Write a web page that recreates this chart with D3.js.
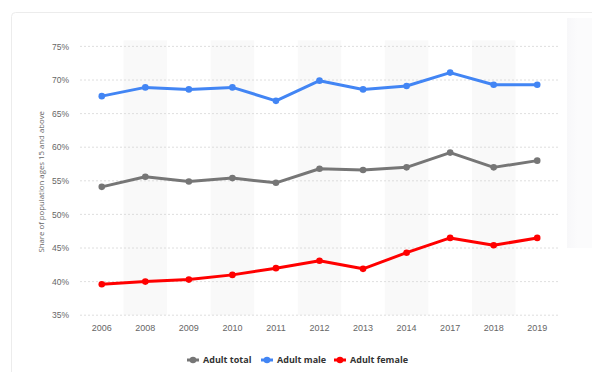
<!DOCTYPE html>
<html>
<head>
<meta charset="utf-8">
<script src="https://cdn.jsdelivr.net/npm/d3@7"></script>
<style>
  body { margin: 0; background: #fff; font-family: "Open Sans", Roboto, sans-serif; }
  svg { display: block; }
  .grid line { stroke: #d6d6d6; stroke-dasharray: 2 2; stroke-width: 0.8; }
  .axis text { fill: #666; font-size: 8.5px; }
</style>
</head>
<body>
<svg id="chart" width="592" height="372"></svg>
<script>
const years = ["2006", "2008", "2009", "2010", "2011", "2012", "2013", "2014", "2017", "2018", "2019"];
const adultTotal = [54.1, 55.6, 54.9, 55.4, 54.7, 56.8, 56.6, 57.0, 59.2, 57.0, 58.0];
const adultMale = [67.6, 68.9, 68.6, 68.9, 66.9, 69.9, 68.6, 69.1, 71.1, 69.3, 69.3];
const adultFemale = [39.6, 40.0, 40.3, 41.0, 42.0, 43.1, 41.9, 44.3, 46.5, 45.4, 46.5];
const yTicks = [35, 40, 45, 50, 55, 60, 65, 70, 75];

const series = [
  { name: "Adult total", values: adultTotal, color: "#767676" },
  { name: "Adult male", values: adultMale, color: "#4285f4" },
  { name: "Adult female", values: adultFemale, color: "#ff0000" }
];

const svg = d3.select("#chart");
const plotLeft = 80, plotRight = 559, plotTop = 46.4, plotBottom = 315.2;

// card frame and the side panel
svg.append("rect").attr("x", 11.5).attr("y", 12.5).attr("width", 600).attr("height", 400)
  .attr("rx", 4).attr("fill", "#fff").attr("stroke", "#ececec");
const defs = svg.append("defs");
const grad = defs.append("linearGradient").attr("id", "side");
grad.append("stop").attr("offset", "0%").attr("stop-color", "#f7f7f9");
grad.append("stop").attr("offset", "35%").attr("stop-color", "#fbfbfc");
svg.append("rect").attr("x", 567).attr("y", 18).attr("width", 30).attr("height", 230)
  .attr("fill", "url(#side)");

const x = d3.scaleBand().domain(years).range([plotLeft, plotRight]);
const y = d3.scaleLinear().domain([35, 75]).range([plotBottom, plotTop]);

// alternating column shading
svg.append("g").selectAll("rect")
  .data(years.filter((d, i) => i % 2 === 1))
  .enter().append("rect")
  .attr("x", d => x(d)).attr("y", plotTop - 6)
  .attr("width", x.bandwidth()).attr("height", plotBottom - plotTop + 6)
  .attr("fill", "#f9f9f9");

svg.append("g").attr("class", "grid")
  .selectAll("line").data(yTicks).enter().append("line")
  .attr("x1", plotLeft).attr("x2", plotRight)
  .attr("y1", d => y(d)).attr("y2", d => y(d));

const yAxis = svg.append("g").attr("class", "axis")
  .attr("transform", `translate(${plotLeft},0)`)
  .call(d3.axisLeft(y).tickValues(yTicks).tickFormat(d => d + "%").tickSize(0).tickPadding(11));
yAxis.select(".domain").remove();

const xAxis = svg.append("g").attr("class", "axis")
  .attr("transform", `translate(0,${plotBottom})`)
  .call(d3.axisBottom(x).tickSize(0).tickPadding(9));
xAxis.select(".domain").remove();
xAxis.selectAll("text").style("font-size", "9px");

svg.append("text")
  .attr("transform", `translate(44,${(plotTop + plotBottom) / 2 + 1}) rotate(-90)`)
  .attr("text-anchor", "middle").attr("fill", "#666").style("font-size", "7.8px")
  .text("Share of population ages 15 and above");

const line = d3.line().x((d, i) => x(years[i]) + x.bandwidth() / 2).y(d => y(d));

series.forEach(s => {
  svg.append("path").datum(s.values)
    .attr("d", line).attr("fill", "none")
    .attr("stroke", s.color).attr("stroke-width", 3).attr("stroke-linejoin", "round");
  svg.append("g").selectAll("circle").data(s.values).enter().append("circle")
    .attr("cx", (d, i) => x(years[i]) + x.bandwidth() / 2)
    .attr("cy", d => y(d)).attr("r", 3.3).attr("fill", s.color);
});

// legend
const legendX = [187, 261, 334];
const legend = svg.append("g").selectAll("g").data(series).enter().append("g")
  .attr("transform", (d, i) => `translate(${legendX[i]},360)`);
legend.append("line").attr("x1", 0).attr("x2", 12)
  .attr("stroke", d => d.color).attr("stroke-width", 3);
legend.append("circle").attr("cx", 6).attr("r", 3.3).attr("fill", d => d.color);
legend.append("text").attr("x", 16).attr("dy", "0.35em")
  .attr("fill", "#333").style("font-size", "9px").style("font-weight", "bold")
  .text(d => d.name);
</script>
</body>
</html>
